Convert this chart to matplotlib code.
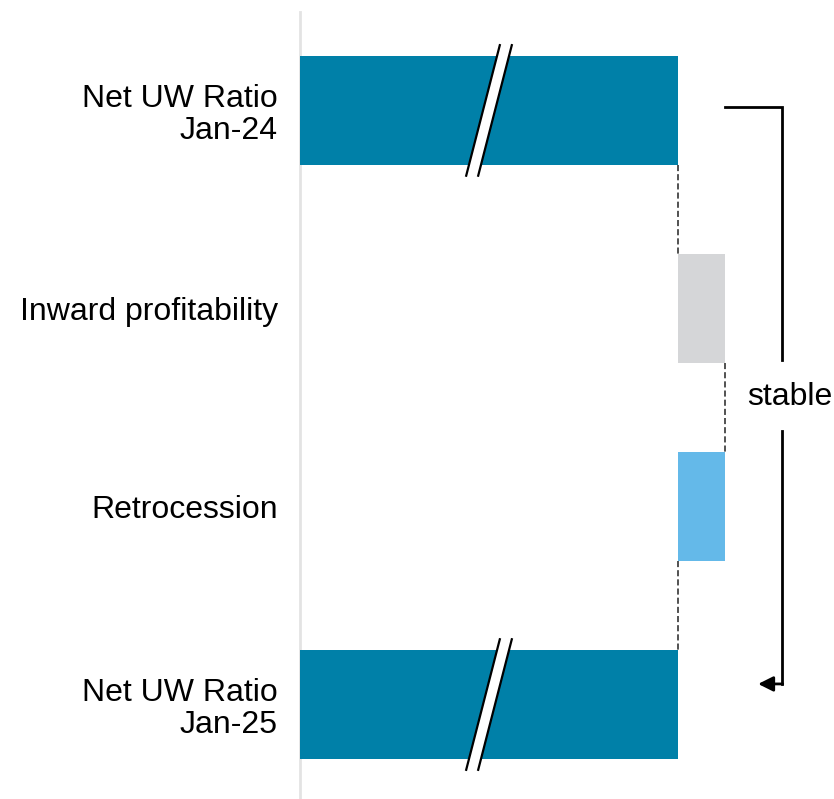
import matplotlib

matplotlib.use("Agg")
import matplotlib.pyplot as plt
from matplotlib.patches import Polygon

plt.rcParams["font.family"] = ["Liberation Sans", "DejaVu Sans"]

# waterfall: opening ratio, two movements, closing ratio
categories = ["Net UW Ratio\nJan-24", "Inward profitability", "Retrocession", "Net UW Ratio\nJan-25"]
steps = [100.0, 12.4, -12.4, 100.0]
kinds = ["total", "delta", "delta", "total"]
colors = ["#0080A8", "#D5D6D8", "#64B9E9", "#0080A8"]
bracket_label = "stable"

W, H = 834, 799
fig = plt.figure(figsize=(W / 100, H / 100), dpi=100)
ax = fig.add_axes([300 / W, 0, 1 - 300 / W, 1 - 12 / H])

px_per_unit = 3.78
ax.set_xlim(0, (W - 300) / px_per_unit)
ax.set_ylim(3.477, -0.497)
bar_h = 0.55

# bar extents
lefts, rights = [], []
level = 0.0
for v, k in zip(steps, kinds):
    if k == "total":
        lefts.append(0.0)
        rights.append(v)
        level = v
    else:
        lo, hi = sorted([level, level + v])
        lefts.append(lo)
        rights.append(hi)
        level += v

ax.barh(range(len(categories)), [r - l for l, r in zip(lefts, rights)], left=lefts,
        height=bar_h, color=colors, zorder=3)

# dashed connectors between consecutive bars
level = 0.0
for i, (v, k) in enumerate(zip(steps, kinds)):
    level = v if k == "total" else level + v
    if i < len(steps) - 1:
        ax.plot([level, level], [i + bar_h / 2, i + 1 - bar_h / 2], color="#222222",
                lw=1.1, ls=(0, (4, 2)), zorder=2)

# axis-break marks on the total bars
slope = 0.2576 * 198 / px_per_unit          # x-shift per unit of y
gap = 12 / px_per_unit
ext = bar_h / 2 + 0.06
for i, (v, k) in enumerate(zip(steps, kinds)):
    if k != "total":
        continue
    xm = v / 2
    xa = xm - gap / 2
    xb = xm + gap / 2
    top, bot = i - ext, i + ext
    dx = slope * ext
    ax.add_patch(Polygon([(xa + dx, top), (xb + dx, top), (xb - dx, bot), (xa - dx, bot)],
                         closed=True, facecolor="white", edgecolor="none", zorder=4))
    for x0 in (xa, xb):
        ax.plot([x0 + dx, x0 - dx], [top, bot], color="black", lw=1.6, zorder=5,
                solid_capstyle="butt")

# bracket with label on the right
bx0 = rights[1]
bx = 127.5
ax.plot([bx0, bx, bx], [-0.018, -0.018, 1.26], color="black", lw=2,
        solid_joinstyle="miter", clip_on=False)
ax.plot([bx, bx], [1.62, 2.896], color="black", lw=2, clip_on=False)
ax.annotate("", xy=(121.2, 2.896), xytext=(bx + 0.2, 2.896),
            arrowprops=dict(arrowstyle="-|>,head_length=0.9,head_width=0.45",
                            color="black", lw=2, shrinkA=0, shrinkB=0),
            annotation_clip=False)
ax.text(129.6, 1.447, bracket_label, fontsize=23, ha="center", va="center")

ax.set_yticks(range(len(categories)))
ax.set_yticklabels(categories, fontsize=23, linespacing=1.1)
ax.tick_params(axis="y", length=0, pad=16)
ax.set_xticks([])
for s in ("top", "right", "bottom"):
    ax.spines[s].set_visible(False)
ax.spines["left"].set_color("#E3E3E3")
ax.spines["left"].set_linewidth(2)

fig.savefig("out.png", dpi=100)
